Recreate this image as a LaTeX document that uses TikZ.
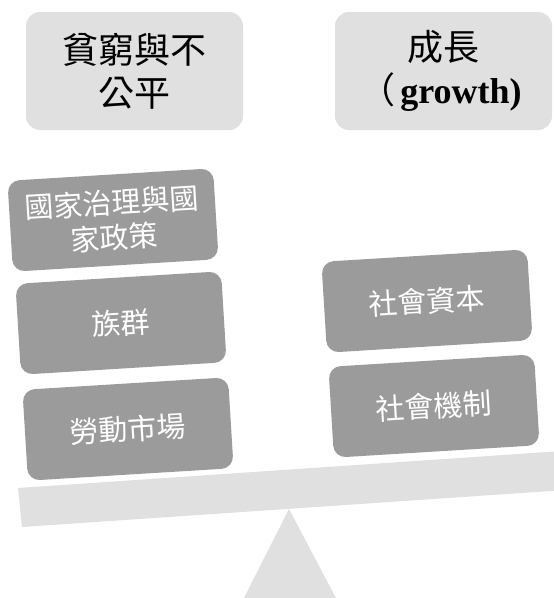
\documentclass[tikz,border=0pt]{standalone}
\usepackage{fontspec}
\setmainfont{Liberation Serif}
\newfontfamily\cjk{Noto Sans CJK TC}
\definecolor{lightbox}{RGB}{224,224,224}
\definecolor{darkbox}{RGB}{155,155,155}
\begin{document}
\begin{tikzpicture}[x=1pt,y=-1pt,
  titlebox/.style={rectangle, rounded corners=14pt, fill=lightbox,
    minimum width=217pt, minimum height=118pt, align=center, inner sep=0pt,
    font=\cjk\fontsize{36}{43}\selectfont},
  factorbox/.style={rectangle, rounded corners=12pt, fill=darkbox,
    minimum width=206pt, minimum height=91pt, align=center, inner sep=0pt,
    text=white, font=\cjk\fontsize{29}{35}\selectfont, rotate=3.5}]
\useasboundingbox (0,0) rectangle (554,598);
\fill[white] (0,0) rectangle (554,598);
\begin{scope}
  \clip (0,0) rectangle (554,598);
  % fulcrum
  \fill[lightbox] (289,509) -- (243,600) -- (337,600) -- cycle;
  % beam
  \fill[lightbox] (18,488) -- (580,449.8) -- (580,489) -- (22,527) -- cycle;
\end{scope}
% titles
\node[titlebox] (poverty) at (134.5,71) {貧窮與不\\公平};
\node[titlebox] (growth) at (443.5,71) {成長\\\hspace*{-6pt}（\hspace{5pt}{\rmfamily\bfseries growth)}};
% left side factors
\node[factorbox] (governance) at (113,220) {國家治理與國\\家政策};
\node[factorbox] (ethnic) at (121,323) {族群};
\node[factorbox] (labour) at (128,429) {勞動市場};
% right side factors
\node[factorbox] (socialcapital) at (427,301) {社會資本};
\node[factorbox] (socialmech) at (434,406) {社會機制};
\end{tikzpicture}
\end{document}
